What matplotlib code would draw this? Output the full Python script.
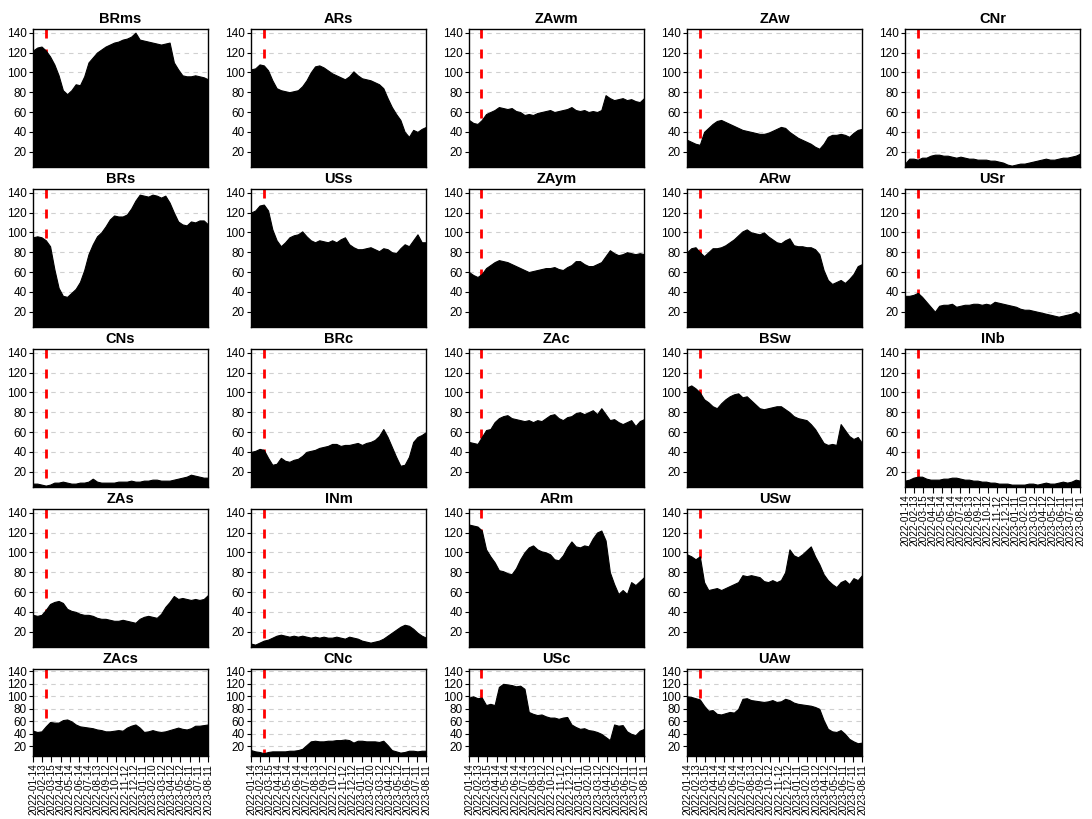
import numpy as np
import matplotlib

matplotlib.use('Agg')
import matplotlib.pyplot as plt

plt.rcParams['font.family'] = ['Liberation Sans', 'DejaVu Sans']

# sample every 14 days starting 2022-01-14 (42 samples up to 2023-08-11)
start_date = np.datetime64('2022-01-14')
end_date = np.datetime64('2023-08-11')
sample_days = np.arange(0, 575, 14)
invasion_date = np.datetime64('2022-02-24')

BRms = [122, 125, 126, 122, 116, 108, 97,
        82, 78, 82, 88, 87, 96, 110,
        115, 120, 123, 126, 128, 130, 131,
        133, 134, 136, 140, 133, 132, 131,
        130, 129, 128, 129, 130, 110, 103,
        97, 96, 96, 97, 96, 95, 93]
ARs = [103, 104, 108, 107, 102, 92, 84,
       82, 81, 80, 81, 82, 86, 92,
       100, 106, 107, 105, 102, 99, 97,
       95, 93, 96, 101, 97, 94, 93,
       92, 90, 88, 84, 74, 65, 58,
       52, 40, 35, 42, 40, 43, 45]
ZAwm = [52, 49, 48, 52, 58, 60, 62,
        65, 64, 63, 64, 61, 60, 57,
        58, 57, 59, 60, 61, 62, 60,
        61, 62, 63, 65, 62, 61, 62,
        60, 61, 60, 62, 77, 74, 72,
        73, 74, 72, 73, 71, 70, 74]
ZAw = [32, 30, 28, 27, 40, 44, 48,
       51, 52, 50, 48, 46, 44, 42,
       41, 40, 39, 38, 38, 39, 41,
       43, 45, 44, 40, 37, 34, 32,
       30, 28, 25, 23, 28, 35, 37,
       37, 38, 37, 35, 39, 42, 43]
CNr = [8, 13, 13, 12, 14, 14, 16,
       17, 17, 16, 16, 15, 14, 15,
       14, 13, 13, 12, 12, 12, 11,
       11, 10, 9, 7, 6, 7, 8,
       8, 9, 10, 11, 12, 13, 12,
       12, 13, 14, 14, 15, 16, 18]
BRs = [95, 96, 95, 92, 86, 63, 44,
       36, 35, 39, 43, 50, 62, 78,
       88, 96, 100, 106, 113, 117, 116,
       116, 118, 124, 132, 138, 137, 136,
       138, 137, 135, 137, 130, 120, 111,
       108, 107, 111, 110, 112, 112, 108]
USs = [120, 122, 127, 128, 122, 103, 92,
       86, 90, 95, 97, 98, 101, 96,
       92, 90, 92, 91, 90, 92, 90,
       93, 95, 88, 85, 83, 83, 84,
       85, 83, 81, 84, 83, 80, 79,
       84, 88, 86, 92, 98, 90, 90]
ZAym = [60, 57, 55, 58, 64, 67, 70,
        72, 71, 70, 68, 66, 64, 62,
        60, 61, 62, 63, 64, 64, 65,
        63, 62, 65, 67, 71, 71, 68,
        66, 66, 68, 70, 76, 82, 79,
        77, 78, 80, 79, 78, 79, 78]
ARw = [80, 84, 85, 80, 76, 80, 84,
       84, 85, 87, 90, 93, 97, 101,
       103, 100, 99, 98, 100, 96, 93,
       90, 89, 92, 94, 87, 86, 86,
       85, 85, 83, 78, 62, 52, 48,
       50, 52, 49, 53, 58, 66, 68]
USr = [36, 36, 37, 39, 35, 30, 25,
       20, 26, 27, 27, 28, 25, 26,
       27, 27, 28, 28, 27, 28, 27,
       30, 29, 28, 27, 26, 25, 23,
       22, 22, 21, 20, 19, 18, 17,
       16, 15, 16, 17, 18, 20, 17]
CNs = [8, 8, 7, 6, 7, 9, 9,
       10, 9, 8, 8, 9, 9, 10,
       13, 10, 9, 9, 9, 9, 10,
       10, 10, 11, 10, 10, 11, 11,
       12, 12, 11, 11, 11, 12, 13,
       14, 15, 17, 16, 15, 14, 14]
BRc = [40, 41, 43, 42, 34, 27, 28,
       34, 31, 30, 32, 33, 36, 40,
       41, 42, 44, 45, 46, 48, 48,
       46, 47, 47, 48, 49, 47, 49,
       50, 52, 56, 63, 55, 45, 35,
       26, 27, 35, 50, 55, 57, 60]
ZAc = [50, 49, 48, 55, 62, 63, 70,
       74, 76, 77, 74, 73, 72, 71,
       72, 70, 72, 71, 74, 77, 78,
       74, 72, 75, 76, 79, 80, 78,
       80, 82, 78, 84, 78, 72, 73,
       70, 68, 70, 72, 66, 71, 73]
BSw = [105, 107, 104, 100, 93, 90, 86,
       84, 89, 93, 96, 98, 99, 95,
       96, 92, 88, 84, 83, 84, 85,
       86, 86, 83, 80, 76, 74, 73,
       72, 68, 63, 56, 49, 47, 48,
       47, 68, 62, 56, 53, 55, 49]
INb = [11, 12, 14, 15, 15, 13, 12,
       12, 12, 13, 13, 14, 14, 13,
       12, 12, 11, 11, 10, 10, 9,
       9, 8, 8, 8, 7, 7, 7,
       7, 8, 8, 7, 8, 9, 8,
       8, 9, 10, 9, 10, 12, 11]
ZAs = [37, 36, 37, 42, 48, 50, 51,
       49, 43, 41, 40, 38, 37, 37,
       36, 34, 33, 33, 32, 31, 31,
       32, 31, 30, 29, 33, 35, 36,
       35, 34, 38, 45, 50, 56, 53,
       54, 53, 52, 53, 52, 53, 57]
INm = [8, 7, 9, 11, 12, 14, 16,
       17, 16, 15, 16, 15, 16, 15,
       14, 15, 14, 15, 14, 14, 15,
       14, 13, 15, 14, 13, 11, 10,
       9, 10, 11, 13, 16, 19, 22,
       25, 27, 26, 23, 19, 16, 14]
ARm = [128, 127, 126, 122, 103, 96, 90,
       82, 81, 79, 78, 84, 93, 100,
       105, 107, 103, 101, 100, 98, 93,
       92, 97, 105, 111, 106, 105, 107,
       106, 114, 120, 122, 112, 80, 68,
       58, 62, 58, 70, 67, 71, 75]
USw = [98, 96, 93, 96, 70, 62, 63,
       64, 62, 64, 66, 68, 70, 77,
       76, 77, 76, 75, 71, 70, 72,
       70, 72, 80, 103, 97, 95, 98,
       102, 106, 96, 88, 78, 72, 68,
       65, 70, 72, 68, 74, 72, 77]
ZAcs = [45, 43, 44, 52, 59, 58, 58,
        62, 63, 60, 55, 52, 51, 50,
        49, 47, 46, 44, 44, 45, 46,
        45, 50, 53, 55, 50, 43, 44,
        46, 44, 43, 44, 46, 48, 50,
        48, 47, 49, 53, 53, 54, 55]
CNc = [14, 12, 11, 9, 11, 12, 12,
       12, 12, 13, 13, 14, 16, 22,
       28, 29, 28, 28, 29, 29, 30,
       30, 31, 30, 26, 29, 29, 28,
       28, 28, 27, 29, 22, 14, 12,
       10, 11, 13, 13, 12, 13, 13]
USc = [98, 100, 97, 98, 86, 88, 86,
       115, 120, 119, 118, 116, 117, 112,
       75, 72, 70, 71, 68, 66, 66,
       64, 66, 67, 55, 51, 48, 49,
       46, 45, 43, 40, 35, 30, 55,
       53, 54, 44, 40, 38, 45, 48]
UAw = [100, 99, 97, 95, 85, 77, 78,
       72, 71, 73, 75, 74, 80, 96,
       97, 94, 93, 92, 91, 92, 94,
       91, 92, 96, 94, 90, 88, 87,
       86, 85, 83, 80, 62, 48, 44,
       43, 46, 40, 32, 28, 25, 26]

panels = [
    ['BRms', 'ARs', 'ZAwm', 'ZAw', 'CNr'],
    ['BRs', 'USs', 'ZAym', 'ARw', 'USr'],
    ['CNs', 'BRc', 'ZAc', 'BSw', 'INb'],
    ['ZAs', 'INm', 'ARm', 'USw', None],
    ['ZAcs', 'CNc', 'USc', 'UAw', None],
]
series = {'BRms': BRms, 'ARs': ARs, 'ZAwm': ZAwm, 'ZAw': ZAw, 'CNr': CNr,
          'BRs': BRs, 'USs': USs, 'ZAym': ZAym, 'ARw': ARw, 'USr': USr,
          'CNs': CNs, 'BRc': BRc, 'ZAc': ZAc, 'BSw': BSw, 'INb': INb,
          'ZAs': ZAs, 'INm': INm, 'ARm': ARm, 'USw': USw,
          'ZAcs': ZAcs, 'CNc': CNc, 'USc': USc, 'UAw': UAw}

total_days = int((end_date - start_date).astype(int))
tick_pos = np.linspace(0, total_days, 20)
tick_labels = [str(start_date + np.timedelta64(int(np.floor(t)), 'D')) for t in tick_pos]
red_x = int((invasion_date - start_date).astype(int))
y_lo, y_hi = 4.6, 143.7

W, H = 1092, 819
fig = plt.figure(figsize=(W / 100, H / 100), dpi=100)

for r, row in enumerate(panels):
    for c, name in enumerate(row):
        if name is None:
            continue
        vals = series[name]
        assert len(vals) == len(sample_days), name
        left = 33 + 218 * c
        top = 29 + 160 * r
        h = 138 if r < 4 else 87
        ax = fig.add_axes([left / W, 1 - (top + h) / H, 175 / W, h / H])

        ax.set_xlim(0, total_days)
        ax.set_ylim(y_lo, y_hi)
        for y in range(20, 141, 20):
            ax.axhline(y, color='#d0d0d0', lw=0.8, ls=(0, (4, 4)), zorder=1)
        # red dashed marker, dashes start at the top of the panel
        ax.plot([red_x, red_x], [y_hi, y_lo], color='red', lw=2.0,
                ls=(0, (3.25, 3.95)), zorder=2, solid_capstyle='butt')
        ax.fill_between(sample_days, vals, 0, color='black', lw=0.8, zorder=3)

        ax.set_yticks(range(20, 141, 20))
        ax.tick_params(axis='y', length=3, pad=1.5, labelsize=8.5, width=0.8)
        ax.set_title(name, fontsize=10.5, fontweight='bold', pad=4)
        for s in ax.spines.values():
            s.set_linewidth(1.0)

        bottom_panel = (r == 4) or (name == 'INb')
        if bottom_panel:
            ax.set_xticks(tick_pos)
            ax.set_xticklabels(tick_labels, rotation=90, fontsize=7.2)
            ax.tick_params(axis='x', length=4, pad=1.5, width=0.8)
        else:
            ax.set_xticks([])

plt.savefig('out.png', dpi=100)
plt.close(fig)
